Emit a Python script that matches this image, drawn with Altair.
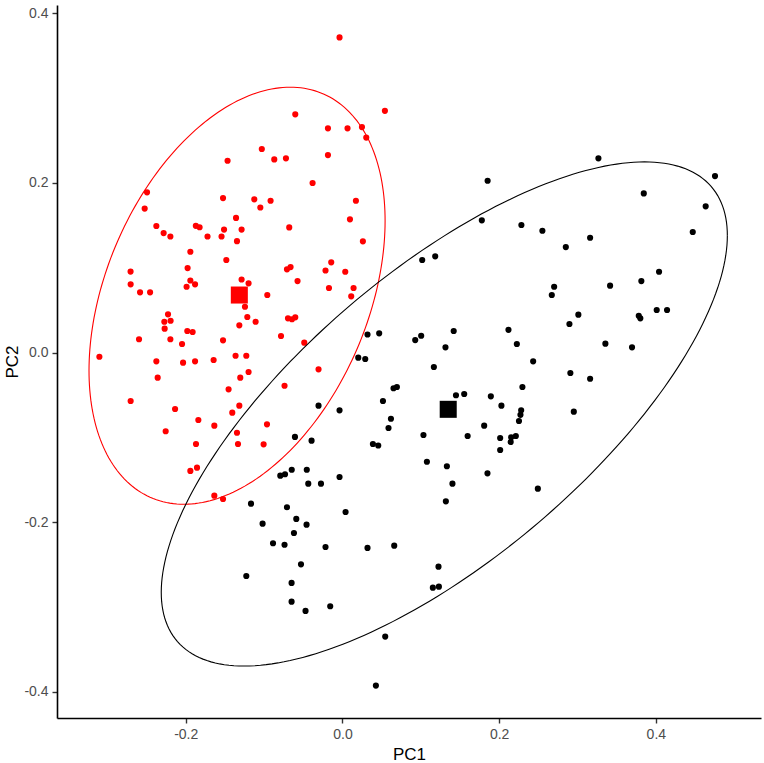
import altair as alt
import numpy as np
import pandas as pd

# ---- data ----
red_pc1 = [-0.1466, -0.2494, -0.2524, -0.1524, -0.1125, -0.1048, -0.1358, -0.2375, -0.2282, -0.2196,
           -0.1871, -0.1823, -0.1722, -0.1511, -0.1287, -0.1543, -0.1346, -0.1941, -0.1482, -0.1976,
           -0.2704, -0.1287, -0.1941, -0.1029, -0.0037, 0.0542, -0.0602, -0.0185, 0.0065, 0.0249,
           0.0304, -0.0870, -0.0721, -0.0185, -0.0381, -0.0917, 0.0172, 0.0096, 0.0261, -0.0679,
           -0.0708, -0.0662, -0.0573, -0.0143, -0.0216, 0.0036, -0.0172, 0.0142, 0.0112, -0.0959,
           -0.1198, -0.1244, -0.1214, -0.0695, -0.0644, -0.0602, -0.1108, -0.2703, -0.2583, -0.2455,
           -0.1881, -0.1989, -0.1316, -0.2226, -0.2273, -0.2193, -0.2269, -0.1980, -0.1912, -0.2596,
           -0.2196, -0.2047, -0.1524, -0.3102, -0.2375, -0.2034, -0.1881, -0.1644, -0.1364, -0.1227,
           -0.2358, -0.1304, -0.1198, -0.1453, -0.2703, -0.2136, -0.1316, -0.1406, -0.1839, -0.1635,
           -0.2256, -0.1346, -0.1869, -0.1333, -0.1941, -0.1856, -0.1635, -0.1524, -0.0963, -0.1006,
           -0.0784, -0.0487, -0.0305, -0.0739]
red_pc2 = [0.2262, 0.1889, 0.1698, 0.1822, 0.1807, 0.1710, 0.1588, 0.1492, 0.1409, 0.1368,
           0.1494, 0.1478, 0.1368, 0.1450, 0.1450, 0.1368, 0.1313, 0.1189, 0.1091, 0.0996,
           0.0955, 0.0861, 0.0849, 0.2400, 0.3717, 0.2851, 0.2809, 0.2644, 0.2644, 0.2659,
           0.2535, 0.2278, 0.2290, 0.2329, 0.1999, 0.1790, 0.1790, 0.1571, 0.1311, 0.1476,
           0.0981, 0.1008, 0.0843, 0.1064, 0.0967, 0.0953, 0.0761, 0.0761, 0.0663, 0.0678,
           0.0816, 0.0540, 0.0419, 0.0403, 0.0392, 0.0415, 0.0363, 0.0804, 0.0710, 0.0710,
           0.0804, 0.0776, 0.0321, 0.0450, 0.0363, 0.0375, 0.0281, 0.0254, 0.0242, 0.0156,
           0.0156, 0.0100, 0.0144, -0.0050, -0.0104, -0.0120, -0.0104, -0.0088, -0.0038, -0.0038,
           -0.0297, -0.0297, -0.0230, -0.0434, -0.0572, -0.0666, -0.0627, -0.0710, -0.0796, -0.0863,
           -0.0929, -0.0946, -0.1079, -0.1079, -0.1397, -0.1358, -0.1689, -0.1728, -0.0847, -0.1083,
           0.0195, 0.0116, -0.0198, -0.0392]

black_pc1 = [-0.0606, -0.0394, 0.0588, 0.0389, 0.0457, -0.0793, -0.0733, -0.0647, -0.0455, -0.0436,
             -0.0274, -0.0037, -0.1167, -0.0708, -0.0589, -0.0458, -0.0619, 0.0040, -0.1019, -0.0886,
             -0.0739, -0.0216, 0.0320, 0.0661, -0.0529, -0.1227, -0.0649, -0.0649, -0.0471, -0.0156,
             0.0546, 0.0427, 0.1018, 0.1184, 0.0320, 0.0469, 0.0929, 0.1005, 0.1420, 0.1315,
             0.2119, 0.2226, 0.2434, 0.0202, 0.0291, 0.1167, 0.0652, 0.0695, 0.1449, 0.1554,
             0.1894, 0.2297, -0.0305, -0.0037, 0.0517, 0.2029, 0.2281, 0.2272, 0.2253, 0.0619,
             0.1809, 0.1034, 0.1598, 0.2013, 0.2153, 0.2213, 0.2147, 0.2013, 0.1078, 0.1333,
             0.1851, 0.1404, 0.2494, 0.1320, 0.1226, 0.1154, 0.1231, 0.3267, 0.1853, 0.4755,
             0.3846, 0.4636, 0.1779, 0.2284, 0.2552, 0.3161, 0.2851, 0.4471, 0.4041, 0.3815,
             0.2702, 0.2672, 0.3416, 0.3011, 0.2897, 0.3782, 0.3802, 0.4011, 0.4143, 0.3356,
             0.3696, 0.2909, 0.3161, 0.2953]
black_pc2 = [-0.0996, -0.1040, -0.0890, -0.1079, -0.1097, -0.1453, -0.1436, -0.1383, -0.1383, -0.1547,
             -0.1547, -0.1468, -0.1783, -0.1825, -0.1963, -0.2031, -0.2129, -0.1881, -0.2019, -0.2250,
             -0.2267, -0.2294, -0.2305, -0.2278, -0.2498, -0.2636, -0.2718, -0.2939, -0.3048, -0.2993,
             -0.3351, -0.3929, 0.1091, 0.1134, 0.0212, 0.0226, 0.0147, 0.0198, 0.0254, 0.0061,
             0.0268, 0.0100, -0.0104, -0.0061, -0.0077, -0.0171, -0.0422, -0.0407, -0.0504, -0.0489,
             -0.0517, -0.0407, -0.0627, -0.0682, -0.0572, -0.0627, -0.0682, -0.0735, -0.0808, -0.0781,
             -0.0863, -0.0973, -0.0985, -0.1008, -0.0999, -0.0985, -0.1055, -0.1150, -0.1288, -0.1342,
             -0.1425, -0.1547, -0.1606, -0.1755, -0.2526, -0.2774, -0.2762, 0.2290, 0.2026, 0.2081,
             0.1877, 0.1724, 0.1559, 0.1504, 0.1436, 0.1354, 0.1244, 0.1421, 0.0953, 0.0843,
             0.0776, 0.0678, 0.0788, 0.0446, 0.0336, 0.0434, 0.0403, 0.0501, 0.0501, 0.0104,
             0.0061, -0.0242, -0.0309, -0.0698]

groups = ["A", "B"]
group_colors = ["#FF0000", "#000000"]

# group centroids (squares)
centroid_pc1 = [-0.1316, 0.1350]
centroid_pc2 = [0.0678, -0.0670]

# 95% ellipse parameters: centre and shape matrix [xx, xy, yy]
ellipse_center_pc1 = [-0.1345, 0.1300]
ellipse_center_pc2 = [0.0670, -0.0725]
ellipse_shape = [[0.0357, 0.0167, 0.0605],
                 [0.1305, 0.0760, 0.0884]]

x_ticks = [-0.2, 0.0, 0.2, 0.4]
y_ticks = [-0.4, -0.2, 0.0, 0.2, 0.4]
x_domain = [-0.3643, 0.5342]
y_domain = [-0.4311, 0.4099]

# ---- tables ----
pts = pd.DataFrame({
    "PC1": red_pc1 + black_pc1,
    "PC2": red_pc2 + black_pc2,
    "group": ["A"] * len(red_pc1) + ["B"] * len(black_pc1),
})

cent = pd.DataFrame({"PC1": centroid_pc1, "PC2": centroid_pc2, "group": groups})

t = np.linspace(0, 2 * np.pi, 241)
rows = []
for g, cx, cy, (mxx, mxy, myy) in zip(groups, ellipse_center_pc1, ellipse_center_pc2, ellipse_shape):
    l11 = np.sqrt(mxx)
    l21 = mxy / l11
    l22 = np.sqrt(myy - l21 ** 2)
    ex = cx + l11 * np.cos(t)
    ey = cy + l21 * np.cos(t) + l22 * np.sin(t)
    for i, (a, b) in enumerate(zip(ex, ey)):
        rows.append({"PC1": a, "PC2": b, "group": g, "idx": i})
ell = pd.DataFrame(rows)

label_expr = "replace(format(datum.value, '.1f'), '\u2212', '-')"

x_enc = alt.X("PC1:Q",
              scale=alt.Scale(domain=x_domain, nice=False, zero=False),
              axis=alt.Axis(values=x_ticks, labelExpr=label_expr, title="PC1", titlePadding=5))
y_enc = alt.Y("PC2:Q",
              scale=alt.Scale(domain=y_domain, nice=False, zero=False),
              axis=alt.Axis(values=y_ticks, labelExpr=label_expr, title="PC2", titlePadding=2))
c_enc = alt.Color("group:N", scale=alt.Scale(domain=groups, range=group_colors), legend=None)

points = alt.Chart(pts).mark_circle(size=38, opacity=1).encode(x=x_enc, y=y_enc, color=c_enc)
ellipses = alt.Chart(ell).mark_line(strokeWidth=1.1).encode(
    x=x_enc, y=y_enc, color=c_enc, detail="group:N", order="idx:Q")
squares = alt.Chart(cent).mark_square(size=290, opacity=1).encode(x=x_enc, y=y_enc, color=c_enc)

chart = alt.layer(points, ellipses, squares).properties(
    width=704, height=713,
    autosize=alt.AutoSizeParams(type="none"),
    padding={"left": 57, "top": 5, "right": 3, "bottom": 45},
    background="white",
).configure_view(stroke=None).configure_axis(
    grid=False,
    domainColor="#000000",
    domainWidth=1.6,
    tickColor="#333333",
    tickWidth=1.4,
    tickSize=5,
    labelPadding=4,
    labelColor="#4D4D4D",
    labelFont="Liberation Sans",
    labelFontSize=14,
    titleFont="Liberation Sans",
    titleFontSize=17,
    titleFontWeight="normal",
    titleColor="#000000",
)

chart.save("out.html", embed_options={"renderer": "svg", "actions": False})
